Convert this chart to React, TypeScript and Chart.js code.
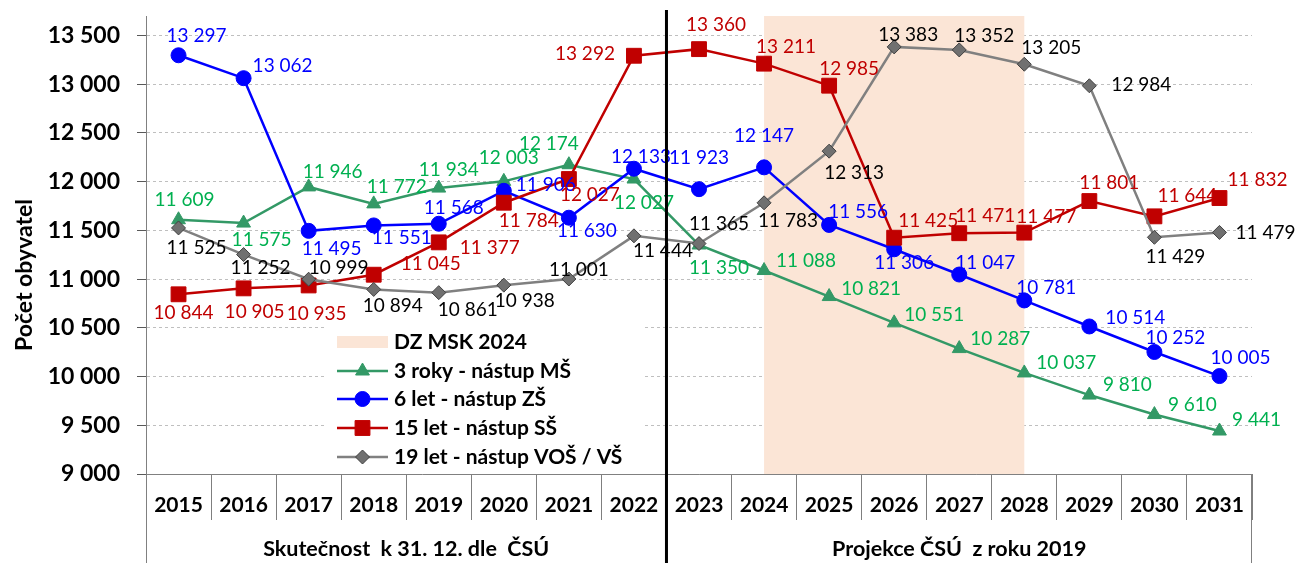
import React, { useEffect, useRef } from 'react';
import { Chart, registerables } from 'chart.js';

Chart.register(...registerables);

// ---------- data ----------
const YEARS = ['2015', '2016', '2017', '2018', '2019', '2020', '2021', '2022', '2023', '2024', '2025', '2026', '2027', '2028', '2029', '2030', '2031'];
const VALUES_3_ROKY = [11609, 11575, 11946, 11772, 11934, 12003, 12174, 12027, 11350, 11088, 10821, 10551, 10287, 10037, 9810, 9610, 9441];
const VALUES_6_LET = [13297, 13062, 11495, 11551, 11568, 11906, 11630, 12133, 11923, 12147, 11556, 11306, 11047, 10781, 10514, 10252, 10005];
const VALUES_15_LET = [10844, 10905, 10935, 11045, 11377, 11784, 12027, 13292, 13360, 13211, 12985, 11425, 11471, 11477, 11801, 11644, 11832];
const VALUES_19_LET = [11525, 11252, 10999, 10894, 10861, 10938, 11001, 11444, 11365, 11783, 12313, 13383, 13352, 13205, 12984, 11429, 11479];
const SERIES_LABELS = ['3 roky - nástup MŠ', '6 let - nástup ZŠ', '15 let - nástup SŠ', '19 let - nástup VOŠ / VŠ'];
const Y_TICKS = [9000, 9500, 10000, 10500, 11000, 11500, 12000, 12500, 13000, 13500];
const Y_TITLE = 'Počet obyvatel';
const SHADE_LABEL = 'DZ MSK 2024';
const SHADE_FROM = '2024';
const SHADE_TO = '2028';
const PERIOD_LABELS = ['Skutečnost  k 31. 12. dle  ČSÚ', 'Projekce ČSÚ  z roku 2019'];
const PERIOD_FIRST_YEARS = ['2015', '2023'];

// ---------- label placement (pixel offsets from the point) ----------
const OFF_3 = [[6, -20], [18, 17], [24, -15], [23, -17], [10, -18], [5, -23], [-20, -21], [10, 24], [20, 23], [42, -10], [42, -8], [40, -8], [41, -10], [42, -10], [38, -10], [38, -10], [37, -11]];
const OFF_6 = [[18, -19], [39, -12], [23, 18], [28, 12], [15, -16], [42, -6], [18, 13], [7, -12], [0, -31], [0, -31], [29, -13], [10, 14], [26, -12], [22, -13], [46, -9], [21, -14], [21, -18]];
const OFF_15 = [[5, 19], [11, 24], [8, 28], [57, -11], [51, 6], [25, 18], [21, 16], [-49, -2], [17, -24], [22, -17], [20, -17], [34, -17], [26, -17], [22, -16], [20, -18], [33, -20], [38, -18]];
const OFF_19 = [[18, 20], [17, 13], [30, -11], [19, 16], [29, 17], [21, 16], [10, -9], [29, 15], [20, -20], [24, 18], [25, 22], [14, -12], [25, -14], [27, -16], [52, -1], [21, 20], [46, 0]];

const FONT = 'Lato, "Open Sans", "DejaVu Sans", sans-serif';
const SHADE_COLOR = '#FBE5D6';

const STYLES = [
  { line: '#339966', fill: '#339966', stroke: '#339966', text: '#00B050', shape: 'triangle', r: 8, off: OFF_3 },
  { line: '#0000FF', fill: '#0000FF', stroke: '#0000FF', text: '#0000FF', shape: 'circle', r: 7.5, off: OFF_6 },
  { line: '#C00000', fill: '#C00000', stroke: '#C00000', text: '#C00000', shape: 'rect', r: 10.5, off: OFF_15 },
  { line: '#808080', fill: '#707070', stroke: '#404040', text: '#000000', shape: 'rectRot', r: 7, off: OFF_19 },
];

const fmt = (v: number) => String(v).replace(/\B(?=(\d{3})+(?!\d))/g, '\u00a0');

function drawShape(ctx: CanvasRenderingContext2D, shape: string, x: number, y: number, r: number) {
  ctx.beginPath();
  if (shape === 'circle') {
    ctx.arc(x, y, r, 0, Math.PI * 2);
  } else if (shape === 'triangle') {
    const a = (2 * Math.PI) / 3;
    ctx.moveTo(x, y - r);
    ctx.lineTo(x + Math.sin(a) * r, y - Math.cos(a) * r);
    ctx.lineTo(x + Math.sin(2 * a) * r, y - Math.cos(2 * a) * r);
    ctx.closePath();
  } else if (shape === 'rect') {
    const s = Math.SQRT1_2 * r;
    ctx.rect(x - s, y - s, 2 * s, 2 * s);
  } else {
    ctx.moveTo(x - r, y);
    ctx.lineTo(x, y - r);
    ctx.lineTo(x + r, y);
    ctx.lineTo(x, y + r);
    ctx.closePath();
  }
}

const decorPlugin = {
  id: 'decor',
  beforeDatasetsDraw(chart: any) {
    const { ctx, chartArea } = chart;
    const x = chart.scales.x;
    const x0 = x.getPixelForValue(YEARS.indexOf(SHADE_FROM));
    const x1 = x.getPixelForValue(YEARS.indexOf(SHADE_TO));
    ctx.save();
    ctx.fillStyle = SHADE_COLOR;
    ctx.fillRect(x0, chartArea.top, x1 - x0, chartArea.bottom - chartArea.top);
    // legend background
    ctx.fillStyle = '#ffffff';
    ctx.fillRect(chartArea.left + 179, 325, 317, chartArea.bottom - 325 - 1);
    ctx.restore();
  },
  afterDatasetsDraw(chart: any) {
    const { ctx, chartArea } = chart;
    const x = chart.scales.x;
    const H = chart.height;
    ctx.save();

    // data labels
    ctx.font = `19px ${FONT}`;
    ctx.textAlign = 'center';
    ctx.textBaseline = 'middle';
    chart.data.datasets.forEach((ds: any, di: number) => {
      const meta = chart.getDatasetMeta(di);
      const st = STYLES[di];
      ctx.fillStyle = st.text;
      meta.data.forEach((pt: any, i: number) => {
        const o = st.off[i] || [0, -16];
        ctx.fillText(fmt(ds.data[i]), pt.x + o[0], pt.y + o[1]);
      });
    });

    // legend
    const lx = chartArea.left + 191;
    const rows = [342, 371, 399, 428, 457];
    ctx.fillStyle = SHADE_COLOR;
    ctx.fillRect(lx, rows[0] - 6, 51, 12);
    ctx.font = `bold 21px ${FONT}`;
    ctx.textAlign = 'left';
    ctx.fillStyle = '#000';
    ctx.fillText(SHADE_LABEL, lx + 57, rows[0]);
    chart.data.datasets.forEach((ds: any, di: number) => {
      const st = STYLES[di];
      const y = rows[di + 1];
      ctx.strokeStyle = st.line;
      ctx.lineWidth = 2.5;
      ctx.beginPath();
      ctx.moveTo(lx, y);
      ctx.lineTo(lx + 51, y);
      ctx.stroke();
      ctx.fillStyle = st.fill;
      ctx.strokeStyle = st.stroke;
      ctx.lineWidth = 1;
      drawShape(ctx, st.shape, lx + 25.5, y, st.r);
      ctx.fill();
      ctx.stroke();
      ctx.fillStyle = '#000';
      ctx.fillText(ds.label, lx + 57, y);
    });

    // axis extension lines
    const catW = (x.right - x.left) / YEARS.length;
    ctx.strokeStyle = '#808080';
    ctx.lineWidth = 1;
    ctx.beginPath();
    ctx.moveTo(x.left + 0.5, chartArea.bottom);
    ctx.lineTo(x.left + 0.5, H);
    ctx.moveTo(x.right - 0.5, chartArea.bottom);
    ctx.lineTo(x.right - 0.5, H);
    ctx.stroke();

    // period labels
    ctx.font = `bold 21.5px ${FONT}`;
    ctx.textAlign = 'center';
    ctx.fillStyle = '#000';
    PERIOD_FIRST_YEARS.forEach((fy, k) => {
      const i0 = YEARS.indexOf(fy);
      const i1 = k + 1 < PERIOD_FIRST_YEARS.length ? YEARS.indexOf(PERIOD_FIRST_YEARS[k + 1]) : YEARS.length;
      const a = x.left + i0 * catW;
      const b = x.left + i1 * catW;
      ctx.fillText(PERIOD_LABELS[k], (a + b) / 2, 549);
    });

    // period separator
    const sepIdx = YEARS.indexOf(PERIOD_FIRST_YEARS[1]);
    const sx = x.left + sepIdx * catW;
    ctx.strokeStyle = '#000';
    ctx.lineWidth = 3;
    ctx.beginPath();
    ctx.moveTo(sx, 10);
    ctx.lineTo(sx, H);
    ctx.stroke();

    // y title
    ctx.translate(25, 275);
    ctx.rotate(-Math.PI / 2);
    ctx.font = `bold 23px ${FONT}`;
    ctx.textAlign = 'center';
    ctx.textBaseline = 'middle';
    ctx.fillStyle = '#000';
    ctx.fillText(Y_TITLE, 0, 0);
    ctx.restore();
  },
};

export default function App() {
  const ref = useRef<HTMLCanvasElement>(null);
  useEffect(() => {
    if (!ref.current) return;
    const seriesValues = [VALUES_3_ROKY, VALUES_6_LET, VALUES_15_LET, VALUES_19_LET];
    const chart = new Chart(ref.current, {
      type: 'line',
      data: {
        labels: YEARS,
        datasets: seriesValues.map((vals, i) => ({
          label: SERIES_LABELS[i],
          data: vals,
          borderColor: STYLES[i].line,
          backgroundColor: STYLES[i].fill,
          pointBackgroundColor: STYLES[i].fill,
          pointBorderColor: STYLES[i].stroke,
          pointBorderWidth: 1,
          pointStyle: STYLES[i].shape as any,
          pointRadius: STYLES[i].r,
          pointHoverRadius: STYLES[i].r,
          borderWidth: 2.5,
          tension: 0,
          fill: false,
          clip: false as any,
          order: 3 - i,
        })),
      },
      options: {
        animation: false,
        responsive: false,
        devicePixelRatio: 1,
        events: [],
        layout: { padding: { top: 16, right: 44, left: 0, bottom: 0 } },
        plugins: { legend: { display: false }, tooltip: { enabled: false }, title: { display: false } },
        scales: {
          x: {
            type: 'category',
            offset: true,
            grid: { offset: true, drawOnChartArea: false, drawTicks: true, tickLength: 46, tickColor: '#7F7F7F', tickWidth: 1 },
            border: { display: true, color: '#808080', width: 1 },
            ticks: { autoSkip: false, maxRotation: 0, padding: -27, color: '#000', font: { family: FONT, size: 21, weight: 'bold' } },
            afterFit: (s: any) => { s.height = 89; s.paddingLeft = 0; s.paddingRight = 0; },
          },
          y: {
            min: 9000,
            max: 13700,
            afterBuildTicks: (s: any) => { s.ticks = Y_TICKS.map((v) => ({ value: v })); },
            grid: { color: '#BFBFBF', lineWidth: 1, drawTicks: true, tickLength: 9, tickColor: '#595959', tickWidth: 1 },
            border: { display: true, color: '#808080', width: 1, dash: [3, 3] },
            ticks: { padding: 17, color: '#000', font: { family: FONT, size: 23, weight: 'bold' }, callback: (v: any) => fmt(Number(v)) },
            afterFit: (s: any) => { s.width = 146; s.paddingTop = 0; s.paddingBottom = 0; },
          },
        },
      },
      plugins: [decorPlugin],
    } as any);
    return () => chart.destroy();
  }, []);
  return (
    <div style={{ position: 'fixed', left: 0, top: 0, width: 1296, height: 563, background: '#fff' }}>
      <canvas ref={ref} width={1296} height={563} style={{ display: 'block' }} />
    </div>
  );
}
